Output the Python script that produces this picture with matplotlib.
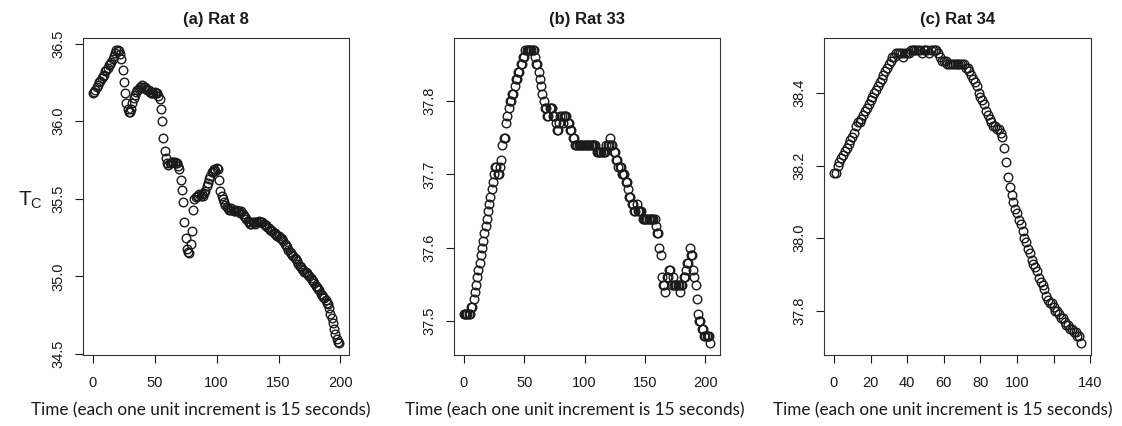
import matplotlib
matplotlib.use('Agg')
import matplotlib.pyplot as plt
import numpy as np

plt.rcParams['font.family'] = ['Liberation Sans', 'DejaVu Sans']
plt.rcParams['mathtext.fontset'] = 'custom'
plt.rcParams['mathtext.rm'] = 'Liberation Sans'

# core temperature, one reading every 15 seconds
rat8 = [
    36.18, 36.19, 36.20, 36.22, 36.23, 36.25, 36.26, 36.28, 36.29, 36.30,
    36.32, 36.33, 36.34, 36.36, 36.37, 36.38, 36.40, 36.42, 36.44, 36.46,
    36.46, 36.45, 36.43, 36.40, 36.33, 36.25, 36.18, 36.12, 36.08, 36.06,
    36.06, 36.08, 36.12, 36.15, 36.17, 36.19, 36.20, 36.21, 36.22, 36.22,
    36.23, 36.22, 36.22, 36.21, 36.20, 36.20, 36.19, 36.18, 36.18, 36.18,
    36.19, 36.18, 36.18, 36.16, 36.14, 36.08, 36.00, 35.89, 35.81, 35.76,
    35.73, 35.72, 35.73, 35.73, 35.74, 35.74, 35.74, 35.73, 35.73, 35.71,
    35.69, 35.62, 35.56, 35.48, 35.35, 35.25, 35.18, 35.16, 35.15, 35.21,
    35.29, 35.43, 35.50, 35.51, 35.52, 35.52, 35.53, 35.52, 35.53, 35.52,
    35.54, 35.55, 35.58, 35.60, 35.63, 35.65, 35.67, 35.68, 35.69, 35.68,
    35.70, 35.69, 35.62, 35.55, 35.52, 35.50, 35.48, 35.46, 35.45, 35.44,
    35.43, 35.43, 35.44, 35.43, 35.42, 35.42, 35.43, 35.42, 35.42, 35.41,
    35.42, 35.40, 35.39, 35.38, 35.37, 35.36, 35.35, 35.34, 35.34, 35.35,
    35.35, 35.34, 35.35, 35.35, 35.36, 35.35, 35.35, 35.35, 35.34, 35.33,
    35.33, 35.32, 35.31, 35.30, 35.30, 35.29, 35.28, 35.28, 35.27, 35.26,
    35.26, 35.25, 35.25, 35.24, 35.23, 35.21, 35.20, 35.19, 35.17, 35.16,
    35.15, 35.14, 35.13, 35.12, 35.11, 35.10, 35.08, 35.07, 35.06, 35.05,
    35.04, 35.03, 35.03, 35.02, 35.01, 35.00, 34.99, 34.98, 34.97, 34.96,
    34.94, 34.93, 34.92, 34.91, 34.89, 34.88, 34.87, 34.86, 34.85, 34.83,
    34.82, 34.80, 34.76, 34.73, 34.70, 34.66, 34.63, 34.60, 34.58, 34.57,
]

rat33 = [
    37.51, 37.51, 37.51, 37.51, 37.51, 37.51, 37.52, 37.52, 37.53, 37.54,
    37.55, 37.56, 37.57, 37.58, 37.59, 37.60, 37.61, 37.62, 37.63, 37.64,
    37.65, 37.66, 37.67, 37.68, 37.69, 37.70, 37.71, 37.71, 37.70, 37.70,
    37.71, 37.72, 37.74, 37.75, 37.75, 37.77, 37.78, 37.79, 37.80, 37.80,
    37.81, 37.81, 37.82, 37.83, 37.83, 37.84, 37.84, 37.85, 37.85, 37.86,
    37.86, 37.87, 37.87, 37.87, 37.87, 37.87, 37.87, 37.87, 37.87, 37.86,
    37.85, 37.85, 37.84, 37.83, 37.82, 37.81, 37.80, 37.79, 37.79, 37.78,
    37.78, 37.79, 37.79, 37.79, 37.78, 37.78, 37.77, 37.76, 37.76, 37.77,
    37.78, 37.78, 37.77, 37.78, 37.78, 37.78, 37.77, 37.77, 37.76, 37.76,
    37.75, 37.75, 37.74, 37.74, 37.74, 37.74, 37.74, 37.74, 37.74, 37.74,
    37.74, 37.74, 37.74, 37.74, 37.74, 37.74, 37.74, 37.74, 37.74, 37.74,
    37.73, 37.73, 37.73, 37.73, 37.73, 37.73, 37.73, 37.73, 37.74, 37.74,
    37.74, 37.75, 37.74, 37.74, 37.73, 37.73, 37.72, 37.72, 37.71, 37.71,
    37.71, 37.70, 37.70, 37.70, 37.69, 37.69, 37.68, 37.67, 37.67, 37.66,
    37.66, 37.65, 37.65, 37.66, 37.65, 37.65, 37.65, 37.65, 37.64, 37.64,
    37.64, 37.64, 37.64, 37.64, 37.64, 37.64, 37.64, 37.64, 37.64, 37.63,
    37.62, 37.62, 37.60, 37.59, 37.56, 37.55, 37.55, 37.54, 37.56, 37.56,
    37.57, 37.57, 37.55, 37.56, 37.55, 37.55, 37.55, 37.55, 37.55, 37.54,
    37.55, 37.55, 37.56, 37.56, 37.57, 37.58, 37.58, 37.60, 37.59, 37.59,
    37.57, 37.56, 37.55, 37.53, 37.51, 37.50, 37.50, 37.49, 37.49, 37.48,
    37.48, 37.48, 37.48, 37.48, 37.47,
]

rat34 = [
    38.18, 38.18, 38.20, 38.21, 38.22, 38.23, 38.24, 38.25, 38.26, 38.27,
    38.28, 38.29, 38.31, 38.32, 38.32, 38.33, 38.34, 38.35, 38.36, 38.37,
    38.38, 38.39, 38.40, 38.41, 38.42, 38.43, 38.44, 38.45, 38.46, 38.47,
    38.48, 38.49, 38.50, 38.50, 38.51, 38.51, 38.51, 38.51, 38.50, 38.51,
    38.51, 38.51, 38.52, 38.52, 38.52, 38.52, 38.52, 38.52, 38.51, 38.52,
    38.52, 38.52, 38.51, 38.52, 38.52, 38.52, 38.52, 38.51, 38.50, 38.49,
    38.49, 38.49, 38.48, 38.48, 38.48, 38.48, 38.48, 38.48, 38.48, 38.48,
    38.48, 38.48, 38.47, 38.47, 38.46, 38.45, 38.44, 38.43, 38.42, 38.40,
    38.39, 38.38, 38.37, 38.35, 38.34, 38.33, 38.32, 38.31, 38.31, 38.30,
    38.30, 38.29, 38.28, 38.25, 38.21, 38.17, 38.14, 38.12, 38.10, 38.08,
    38.07, 38.05, 38.04, 38.02, 38.00, 37.99, 37.97, 37.96, 37.94, 37.93,
    37.92, 37.91, 37.89, 37.88, 37.87, 37.86, 37.84, 37.83, 37.82, 37.82,
    37.81, 37.80, 37.80, 37.79, 37.78, 37.78, 37.77, 37.76, 37.76, 37.75,
    37.75, 37.74, 37.74, 37.73, 37.73, 37.71,
]

titles = ['(a) Rat 8', '(b) Rat 33', '(c) Rat 34']
xticks_ab = [0, 50, 100, 150, 200]
xticks_c = [0, 20, 40, 60, 80, 100, 120, 140]
xlabels_c = ['0', '20', '40', '60', '80', '100', '', '140']
yticks_a = [34.5, 35.0, 35.5, 36.0, 36.5]
yticks_b = [37.5, 37.6, 37.7, 37.8]
yticks_c = [37.8, 38.0, 38.2, 38.4]
xlabel = 'Time (each one unit increment is 15 seconds)'

W, H = 1122, 426
INK = '#1a1a1a'


def panel(fig, left, right, values, title, xticks, xlabels, yticks):
    'One scatter panel in the style of base R plot().'
    ax = fig.add_axes([left / W, 1 - 355 / H, (right - left) / W, 317 / H])
    t = np.arange(len(values))
    ax.plot(t, values, 'o', mfc='none', mec=INK, ms=6.2, mew=1.0)
    ax.margins(0.04)

    ax.set_xticks(xticks)
    ax.set_xticklabels(xlabels)
    ax.set_yticks(yticks)
    ax.set_yticklabels(['%.1f' % v for v in yticks], rotation=90, va='center')
    ax.tick_params(direction='out', length=5.8, width=0.8, colors=INK,
                   labelsize=10.5)
    ax.tick_params(axis='x', pad=9)
    ax.tick_params(axis='y', pad=7)
    for s in ax.spines.values():
        s.set_linewidth(0.8)
        s.set_color('#333333')
    ax.set_title(title, fontsize=12, fontweight='bold', color=INK, pad=10)
    return ax


fig = plt.figure(figsize=(W / 100, H / 100), dpi=100)

panel(fig, 83, 349, rat8, titles[0], xticks_ab, [str(v) for v in xticks_ab], yticks_a)
panel(fig, 454, 720, rat33, titles[1], xticks_ab, [str(v) for v in xticks_ab], yticks_b)
panel(fig, 824, 1091, rat34, titles[2], xticks_c, xlabels_c, yticks_c)

fig.text(30 / W, 1 - 200 / H, r'T$_\mathregular{C}$', fontsize=15, color=INK,
         ha='center', va='center')

for cx in [201, 575, 943]:
    fig.text(cx / W, 1 - 410 / H, xlabel, family='Lato', fontsize=12.3, color=INK,
             ha='center', va='center')

fig.savefig('out.png', dpi=100)
